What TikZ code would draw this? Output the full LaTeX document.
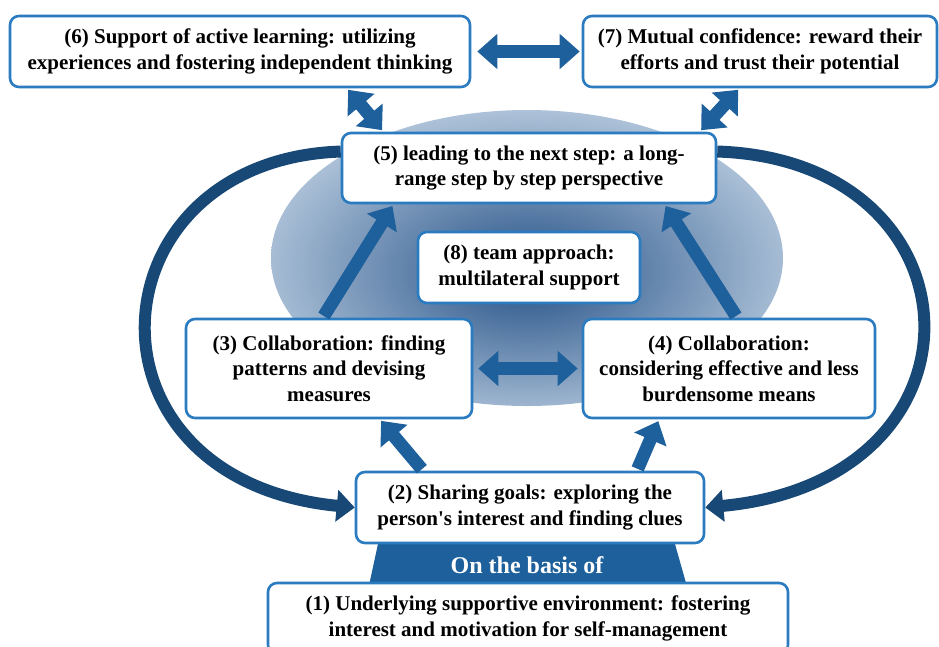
\documentclass[tikz,border=0pt]{standalone}
\usepackage{xcolor}
\usepackage{fontspec}
\setmainfont{Liberation Serif}
\usepackage{tikz}
\usetikzlibrary{calc}
\usetikzlibrary{arrows.meta}
\usetikzlibrary{shapes}

\definecolor{boxblue}{RGB}{43,123,192}
\definecolor{arrowblue}{RGB}{30,96,156}
\definecolor{arcblue}{RGB}{24,72,118}
\definecolor{haloin}{RGB}{62,102,150}
\definecolor{haloout}{RGB}{218,231,243}
\pgfdeclareradialshading{halo}{\pgfpoint{0bp}{-3bp}}{color(0bp)=(haloin); color(5bp)=(haloin); color(35bp)=(haloout); color(50bp)=(haloout)}

\tikzset{
 stage/.style = {rectangle, rounded corners = 9pt, draw = boxblue, line width = 2.6pt, fill = white, align = center, inner sep = 0pt, font = \bfseries\fontsize{21}{25.5}\selectfont},
 link/.style = {draw = arrowblue, line width = 13pt, shorten < = 2pt, shorten > = 2pt, -{Triangle[width = 34pt, length = 20pt]}},
 twolink/.style = {link, {Triangle[width = 34pt, length = 20pt]}-{Triangle[width = 34pt, length = 20pt]}},
 loop/.style = {draw = arcblue, line width = 12pt, -{Triangle[width = 31pt, length = 18pt]}}
}

\begin{document}
\begin{tikzpicture}[x = 1pt, y = -1pt]
 \useasboundingbox (0, 0) rectangle (939, 646);
 \shade [shading = halo] (527, 258) ellipse [x radius = 256pt, y radius = 148pt];
 \fill [arrowblue] (381, 530) -- (671, 530) -- (688, 590) -- (368, 590) -- cycle;
 \node [text = white, font = \bfseries\fontsize{24}{28}\selectfont] (B) at (527, 565) {On the basis of};

 \node [stage, minimum width = 460pt, minimum height = 71pt] (S6) at (240, 51.5) {(6) Support of active learning: utilizing\\experiences and fostering independent thinking};
 \node [stage, minimum width = 354pt, minimum height = 71pt] (S7) at (760, 51.5) {(7) Mutual confidence: reward their\\efforts and trust their potential};
 \node [stage, minimum width = 374pt, minimum height = 70pt] (S5) at (529, 168) {(5) leading to the next step: a long-\\range step by step perspective};
 \node [stage, minimum width = 222pt, minimum height = 71pt] (S8) at (529, 267.5) {(8) team approach:\\multilateral support};
 \node [stage, minimum width = 286pt, minimum height = 99pt] (S3) at (329, 368.5) {(3) Collaboration: finding\\patterns and devising\\measures};
 \node [stage, minimum width = 292pt, minimum height = 99pt] (S4) at (729, 368.5) {(4) Collaboration:\\considering effective and less\\burdensome means};
 \node [stage, minimum width = 348pt, minimum height = 71pt] (S2) at (530, 507.5) {(2) Sharing goals: exploring the\\person\textquotesingle s interest and finding clues};
 \node [stage, minimum width = 520pt, minimum height = 71pt] (S1) at (528, 618.5) {(1) Underlying supportive environment: fostering\\interest and motivation for self-management};

 \draw [twolink, shorten < = 6pt] (S6.east) -- (S7.west);
 \draw [twolink] (S6.-19) -- (S5.166);
 \draw [twolink] (S5.12) -- (S7.-119);
 \draw [twolink, shorten < = 5pt, shorten > = 4pt] (S3.east) -- (S4.west);
 \draw [link] (S3.97) -- (S5.-165);
 \draw [link] (S4.81) -- (S5.-15);
 \draw [link] (S2.161.5) -- (S3.-45);
 \draw [link] (S2.19.6) -- (S4.-144);

 \draw [loop] (S5.175) .. controls (90, 160) and (70, 480) .. (S2.west);
 \draw [loop] (S5.5) .. controls (985, 160) and (1000, 480) .. (S2.east);
\end{tikzpicture}
\end{document}
